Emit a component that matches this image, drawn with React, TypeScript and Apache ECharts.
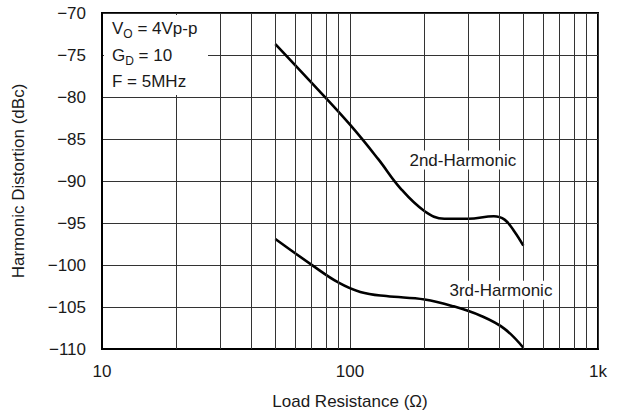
import React, { useEffect, useRef } from "react";
import * as echarts from "echarts";

const FONT = "'Liberation Sans', Arial, Helvetica, sans-serif";
const FS = 17;

const xTicks = [10, 100, 1000];
const xTickLabels = ["10", "100", "1k"];
const minorX = [20, 30, 40, 50, 60, 70, 80, 90, 200, 300, 400, 500, 600, 700, 800, 900];

const harm2: [number, number][] = [
  [50, -73.7], [71, -78.5], [100, -83.3], [130, -87.4], [160, -90.9], [200, -93.6],
  [240, -94.5], [300, -94.5], [380, -94.2], [420, -94.6], [460, -96.0], [500, -97.7],
];
const harm3: [number, number][] = [
  [50, -96.9], [71, -100.1], [90, -102.1], [110, -103.2], [140, -103.7], [200, -104.1],
  [260, -104.9], [340, -106.1], [420, -107.6], [500, -109.85],
];
const label2 = { name: "2nd-Harmonic", at: [285, -87.5] };
const label3 = { name: "3rd-Harmonic", at: [406, -103.0] };

const annotations = [
  { main: "V", sub: "O", rest: " = 4Vp-p" },
  { main: "G", sub: "D", rest: " = 10" },
  { main: "F = 5MHz", sub: "", rest: "" },
];

export default function App() {
  const ref = useRef<HTMLDivElement>(null);
  useEffect(() => {
    if (!ref.current) return;
    const chart = echarts.init(ref.current, null, { renderer: "svg" });
    const textLabel = (txt: string, at: number[]) => ({
      coord: at,
      symbol: "rect",
      symbolSize: 1,
      itemStyle: { color: "rgba(0,0,0,0)" },
      label: {
        show: true,
        formatter: txt,
        position: "inside",
        color: "#1a1a1a",
        fontSize: FS,
        fontFamily: FONT,
        backgroundColor: "#fff",
        padding: [1, 2, 1, 2],
      },
    });
    chart.setOption({
      animation: false,
      backgroundColor: "#fff",
      grid: {
        left: 102,
        right: 23,
        top: 13,
        bottom: 67,
        show: true,
        borderColor: "#000",
        borderWidth: 2,
        backgroundColor: "transparent",
      },
      xAxis: {
        type: "log",
        logBase: 10,
        min: xTicks[0],
        max: xTicks[xTicks.length - 1],
        name: "Load Resistance (Ω)",
        nameLocation: "middle",
        nameGap: 44,
        nameTextStyle: { fontSize: FS, fontFamily: FONT, color: "#1a1a1a" },
        axisLine: { show: true, lineStyle: { color: "#000", width: 2 } },
        axisTick: { show: false },
        axisLabel: {
          margin: 14,
          fontSize: FS,
          fontFamily: FONT,
          color: "#1a1a1a",
          formatter: (v: number) => {
            const i = xTicks.findIndex((t) => Math.abs(t - v) < 1e-6);
            return i >= 0 ? xTickLabels[i] : "";
          },
        },
        splitLine: { show: true, lineStyle: { color: "#333", width: 1 } },
      },
      yAxis: {
        type: "value",
        min: -110,
        max: -70,
        interval: 5,
        name: "Harmonic Distortion (dBc)",
        nameLocation: "middle",
        nameGap: 75,
        nameTextStyle: { fontSize: FS, fontFamily: FONT, color: "#1a1a1a" },
        axisLine: { show: true, lineStyle: { color: "#000", width: 2 } },
        axisTick: { show: false },
        axisLabel: {
          margin: 16,
          fontSize: FS,
          fontFamily: FONT,
          color: "#1a1a1a",
          formatter: (v: number) => String(v).replace("-", "\u2212"),
        },
        splitLine: { show: true, lineStyle: { color: "#333", width: 1 } },
      },
      series: [
        {
          type: "line",
          name: "grid",
          z: 1,
          data: [[10, -200]],
          showSymbol: false,
          lineStyle: { opacity: 0 },
          silent: true,
          markLine: {
            silent: true,
            symbol: ["none", "none"],
            label: { show: false },
            lineStyle: { color: "#333", width: 1, type: "solid" },
            data: minorX.map((v) => ({ xAxis: v })),
          },
        },
        {
          type: "line",
          name: "2nd",
          z: 3,
          data: harm2,
          smooth: 0.4,
          showSymbol: false,
          lineStyle: { color: "#000", width: 2.6 },
          markPoint: { silent: true, data: [textLabel(label2.name, label2.at)] },
        },
        {
          type: "line",
          name: "3rd",
          z: 3,
          data: harm3,
          smooth: 0.4,
          showSymbol: false,
          lineStyle: { color: "#000", width: 2.6 },
          markPoint: { silent: true, data: [textLabel(label3.name, label3.at)] },
        },
      ],
      graphic: [
        {
          type: "rect",
          z: 50,
          shape: { x: 104, y: 15, width: 104, height: 80 },
          style: { fill: "#fff" },
        },
        ...annotations.map((a, i) => ({
          type: "text",
          z: 51,
          x: 112,
          y: 20 + i * 26.5,
          style: {
            text: a.sub ? `{m|${a.main}}{s|${a.sub}}{m|${a.rest}}` : `{m|${a.main}}`,
            rich: {
              m: { fontSize: FS, fontFamily: FONT, fill: "#1a1a1a", lineHeight: 19, verticalAlign: "top" },
              s: { fontSize: 12, fontFamily: FONT, fill: "#1a1a1a", lineHeight: 19, padding: [8, 0, 0, 0], verticalAlign: "top" },
            },
          },
        })),
      ],
    });
    return () => chart.dispose();
  }, []);
  return (
    <div
      ref={ref}
      style={{ position: "fixed", left: 0, top: 0, width: 621, height: 416, background: "#fff" }}
    />
  );
}
